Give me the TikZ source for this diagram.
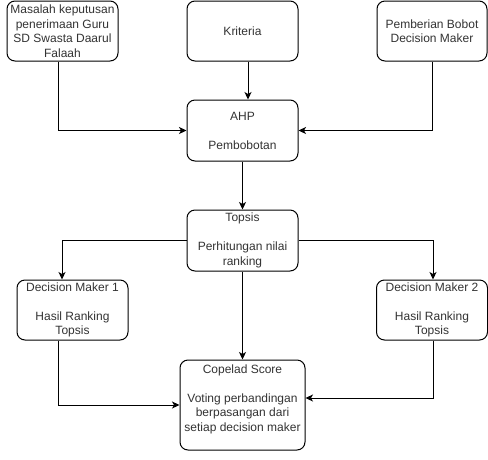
\documentclass[tikz,border=0pt]{standalone}
\usepackage{fontspec}
\setmainfont{Liberation Sans}
\usetikzlibrary{arrows.meta}
\begin{document}
\begin{tikzpicture}[x=1pt,y=-1pt,
  box/.style={draw=black, line width=1pt, rounded corners=8pt, fill=white,
    align=center, inner sep=1pt, text=black!80,
    font=\fontsize{12}{14.5}\selectfont},
  flow/.style={draw=black, line width=1pt,
    -{Stealth[length=7.5pt,width=7pt,inset=2pt]}}]
\useasboundingbox[fill=white] (0,0) rectangle (488,459);

% top row
\node[box, minimum width=111pt, minimum height=60pt] (masalah) at (62.5,31)
  {Masalah keputusan\\penerimaan Guru\\SD Swasta Daarul\\Falaah};
\node[box, minimum width=111pt, minimum height=60pt] (kriteria) at (242.5,31)
  {Kriteria};
\node[box, minimum width=110pt, minimum height=60pt] (bobot) at (432,31)
  {Pemberian Bobot\\Decision Maker};

% weighting and ranking
\node[box, minimum width=111pt, minimum height=61pt] (ahp) at (242.5,130.5)
  {AHP\\[14.5pt]Pembobotan};
\node[box, minimum width=111pt, minimum height=61pt] (topsis) at (242.5,240.5)
  {Topsis\\[14.5pt]Perhitungan nilai\\ranking};

% decision makers
\node[box, minimum width=111pt, minimum height=60pt] (dm1) at (72.5,310)
  {Decision Maker 1\\[14.5pt]Hasil Ranking\\Topsis};
\node[box, minimum width=111pt, minimum height=60pt] (dm2) at (432,310)
  {Decision Maker 2\\[14.5pt]Hasil Ranking\\Topsis};

% aggregation
\node[box, minimum width=125pt, minimum height=90pt] (copeland) at (242.5,405)
  {Copelad Score\\[14.5pt]Voting perbandingan\\berpasangan dari\\setiap decision maker\\\mbox{}};

% connectors
\draw[flow] ([xshift=-4.5pt]masalah.south) |- (ahp.west);
\draw[flow] ([xshift=5.5pt]kriteria.south) -- ([xshift=5.5pt]ahp.north);
\draw[flow] (bobot.south) |- (ahp.east);
\draw[flow] (ahp.south) -- (topsis.north);
\draw[flow] (topsis.west) -| ([xshift=-10.5pt]dm1.north);
\draw[flow] (topsis.east) -| ([xshift=1pt]dm2.north);
\draw[flow] (topsis.south) -- (copeland.north);
\draw[flow] ([xshift=-14.5pt]dm1.south) |- (copeland.west);
\draw[flow] ([xshift=1pt]dm2.south) |- ([yshift=7pt]copeland.east);
\end{tikzpicture}
\end{document}
